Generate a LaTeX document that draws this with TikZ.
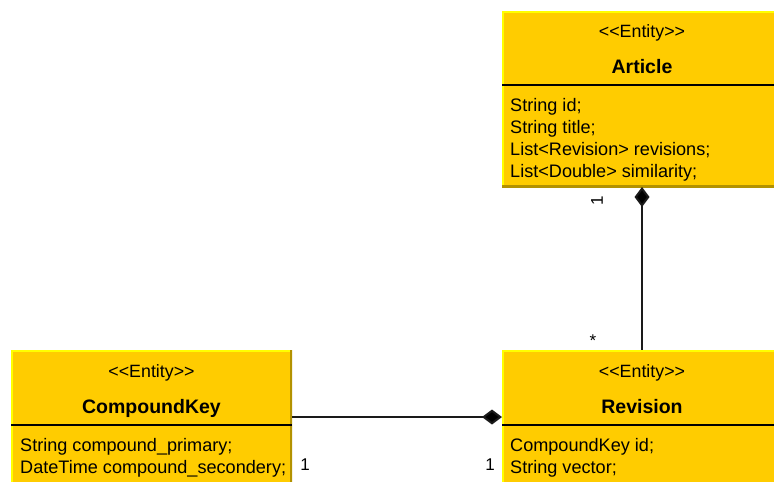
\documentclass[tikz,border=0pt]{standalone}
\usepackage{fontspec}
\setmainfont{Liberation Sans}
\usetikzlibrary{arrows.meta}
\definecolor{boxfill}{HTML}{FFCC00}
\definecolor{boxlight}{HTML}{FFFF00}
\definecolor{boxdark}{HTML}{B39200}
\definecolor{linkcol}{HTML}{1A1A1A}

\begin{document}
\begin{tikzpicture}[x=1pt,y=-1pt,
  classbox/.style={fill=boxfill, draw=none, anchor=north west, inner sep=0pt, outer sep=0pt,
    minimum width=280pt,
    path picture={
      \draw[boxlight, line width=4pt] (path picture bounding box.south west) -- (path picture bounding box.north west) -- (path picture bounding box.north east);
      \draw[boxdark, line width=4pt] (path picture bounding box.north east) -- (path picture bounding box.south east) -- (path picture bounding box.south west);
    }},
  divider/.style={draw=black, line width=1.5pt},
  stereo/.style={font=\fontsize{17.8}{20}\selectfont, inner sep=0pt, anchor=base},
  cname/.style={font=\fontsize{19.5}{22}\selectfont\bfseries, inner sep=0pt, anchor=base},
  attr/.style={font=\fontsize{18.1}{22}\selectfont, inner sep=0pt, anchor=base west},
  mult/.style={font=\fontsize{17}{20}\selectfont, inner sep=0pt, anchor=base},
  link/.style={draw=linkcol, line width=2pt},
  compose/.style={-{Diamond[length=20pt, width=15pt, fill=black]}},
  composeback/.style={{Diamond[length=20pt, width=15pt, fill=black]}-}
]
\useasboundingbox (0,0) rectangle (774,482);
\clip (0,0) rectangle (774,482);
\fill[white] (0,0) rectangle (774,482);

% Article
\node[classbox, minimum height=176pt] (article) at (502,11) {};
\draw[divider] (502,85) coordinate (artL) -- (782,85) coordinate (artR);
\node[stereo] (artStereo) at (642,37) {<{}<Entity>{}>};
\node[cname] (artName) at (642,73) {Article};
\node[attr] (artA1) at (510,111) {String id;};
\node[attr] (artA2) at (510,133) {String title;};
\node[attr] (artA3) at (510,155) {List<Revision> revisions;};
\node[attr] (artA4) at (510,177) {List<Double> similarity;};

% CompoundKey
\node[classbox, minimum height=150pt, minimum width=281pt] (ckey) at (11,350) {};
\draw[divider] (11,425) coordinate (ckL) -- (292,425) coordinate (ckR);
\node[stereo] (ckStereo) at (151.5,377) {<{}<Entity>{}>};
\node[cname] (ckName) at (151.5,413) {CompoundKey};
\node[attr] (ckA1) at (20,451) {String compound\_primary;};
\node[attr] (ckA2) at (20,473) {DateTime compound\_secondery;};

% Revision
\node[classbox, minimum height=150pt] (revision) at (502,350) {};
\draw[divider] (502,425) coordinate (revL) -- (782,425) coordinate (revR);
\node[stereo] (revStereo) at (642,377) {<{}<Entity>{}>};
\node[cname] (revName) at (642,413) {Revision};
\node[attr] (revA1) at (510,451) {CompoundKey id;};
\node[attr] (revA2) at (510,473) {String vector;};

% Compositions
\draw[link, composeback] (article.south) -- (revision.north);
\draw[link, compose] (ckey.east |- 0,417) -- (revision.west |- 0,417);

% Multiplicities
\node[mult, rotate=90, anchor=center] (mArticle) at (597,201) {1};
\node[mult] (mRevTop) at (593,346) {*};
\node[mult] (mCk) at (305,470) {1};
\node[mult] (mRevLeft) at (490,470) {1};
\end{tikzpicture}
\end{document}
